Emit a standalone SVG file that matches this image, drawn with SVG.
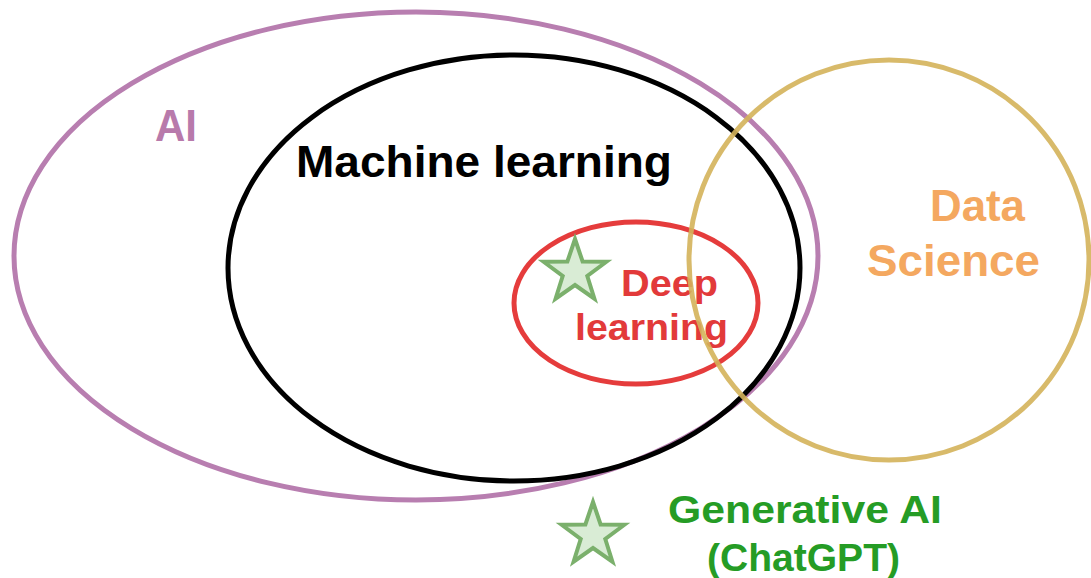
<svg xmlns="http://www.w3.org/2000/svg" width="1091" height="578" viewBox="0 0 1091 578">
<style>
.t{font-family:"Liberation Sans",Arial,sans-serif;font-weight:bold}
.ring{fill:none;stroke-width:5}
.star{fill:#d9ecd5;stroke:#7bb06c;stroke-width:4;stroke-linejoin:miter}
</style>
<defs>
<polygon id="starShape" points="0,-33 7.6,-10.5 31.4,-10.2 12.3,4 19.4,26.7 0,13 -19.4,26.7 -12.3,4 -31.4,-10.2 -7.6,-10.5"/>
</defs>
<rect width="1091" height="578" fill="#ffffff"/>
<g id="ai">
<ellipse class="ring" cx="416" cy="256" rx="402" ry="244" stroke="#b87eb0"/>
<text class="t" x="155" y="141" font-size="44" fill="#b87aab" textLength="42" lengthAdjust="spacingAndGlyphs">AI</text>
</g>
<g id="machine-learning">
<ellipse class="ring" cx="514" cy="268" rx="286" ry="213" stroke="#000000"/>
<text class="t" x="296" y="177" font-size="45" fill="#000000" textLength="376" lengthAdjust="spacingAndGlyphs">Machine learning</text>
</g>
<g id="deep-learning">
<ellipse class="ring" cx="636" cy="303" rx="122" ry="81" stroke="#e53c3c"/>
<use href="#starShape" class="star" x="575" y="272"/>
<text class="t" x="621" y="296" font-size="37" fill="#e23a3a" textLength="97" lengthAdjust="spacingAndGlyphs">Deep</text>
<text class="t" x="575" y="340" font-size="37" fill="#e23a3a" textLength="153" lengthAdjust="spacingAndGlyphs">learning</text>
</g>
<g id="data-science">
<text class="t" x="930" y="221" font-size="44" fill="#f4a860" textLength="95" lengthAdjust="spacingAndGlyphs">Data</text>
<text class="t" x="867" y="276" font-size="44" fill="#f4a860" textLength="173" lengthAdjust="spacingAndGlyphs">Science</text>
<circle class="ring" cx="889" cy="260" r="200" stroke="#d4b25a" stroke-opacity="0.9"/>
</g>
<g id="generative-ai">
<use href="#starShape" class="star" x="593" y="535"/>
<text class="t" x="668" y="523" font-size="39" fill="#259c25" textLength="274" lengthAdjust="spacingAndGlyphs">Generative AI</text>
<text class="t" x="707" y="571" font-size="39" fill="#259c25" textLength="193" lengthAdjust="spacingAndGlyphs">(ChatGPT)</text>
</g>
<g id="connectors"></g>
</svg>
